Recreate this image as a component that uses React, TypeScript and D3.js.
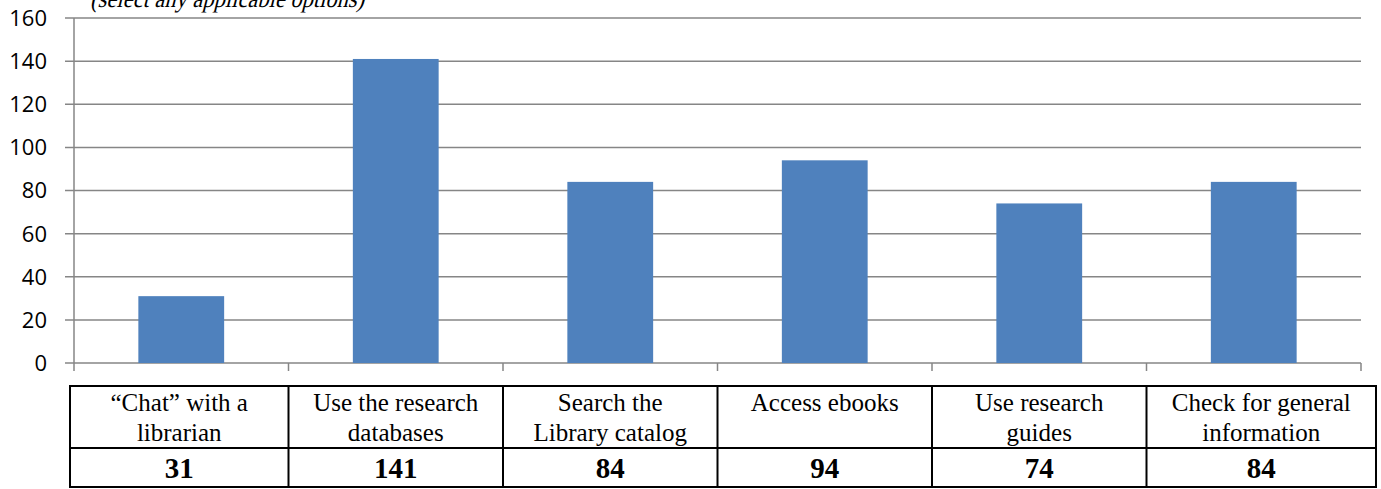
import React from "react";
import * as d3 from "d3";

const categories: string[][] = [
  ["\u201CChat\u201D with a", "librarian"],
  ["Use the research", "databases"],
  ["Search the", "Library catalog"],
  ["Access ebooks"],
  ["Use research", "guides"],
  ["Check for general", "information"],
];
const values: number[] = [31, 141, 84, 94, 74, 84];
const yTicks: number[] = [0, 20, 40, 60, 80, 100, 120, 140, 160];
const title = "(select any applicable options)";

export default function App() {
  const W = 1381, H = 489;
  const x0 = 74, x1 = 1361;
  const y = d3.scaleLinear().domain([0, 160]).range([363, 18]);
  const x = d3.scaleBand().domain(categories.map((_, i) => String(i))).range([x0, x1]).paddingInner(0.6).paddingOuter(0.3);
  const xb = d3.scaleBand().domain(categories.map((_, i) => String(i))).range([x0, x1]);
  const grid = "#868686";
  const tTop = 386, tMid = 448, tBot = 487, tLeft = 70, tRight = 1376;
  const serif = "'Liberation Serif', 'Times New Roman', serif";
  return (
    <svg width={W} height={H} style={{ position: "absolute", left: 0, top: 0 }}>
      <rect width={W} height={H} fill="#fff" />
      <g transform="translate(90,7) skewX(-14)">
        <text x={0} y={0} textLength={274} lengthAdjust="spacingAndGlyphs" style={{ fontFamily: serif, fontSize: "26px" }} fill="#000">{title}</text>
      </g>
      {yTicks.map((t) => (
        <g key={t}>
          <line x1={65} x2={x1} y1={y(t)} y2={y(t)} stroke={grid} strokeWidth={1.5} />
          <text x={47} y={y(t)} dy="0.36em" textAnchor="end" style={{ fontFamily: "'Open Sans', sans-serif", fontSize: "22px" }} fill="#000">{t}</text>
        </g>
      ))}
      <line x1={x0} x2={x0} y1={y(160)} y2={y(0)} stroke={grid} strokeWidth={1.5} />
      {categories.map((_, i) => (
        <line key={"tk" + i} x1={xb(String(i))!} x2={xb(String(i))!} y1={y(0)} y2={y(0) + 8} stroke={grid} strokeWidth={1.5} />
      ))}
      <line x1={x1} x2={x1} y1={y(0)} y2={y(0) + 8} stroke={grid} strokeWidth={1.5} />
      {values.map((v, i) => (
        <rect key={"b" + i} x={x(String(i))!} width={x.bandwidth()} y={y(v)} height={y(0) - y(v)} fill="#4F81BD" />
      ))}
      <rect x={tLeft} y={tTop} width={tRight - tLeft} height={tBot - tTop} fill="none" stroke="#000" strokeWidth={2} />
      <line x1={tLeft} x2={tRight} y1={tMid} y2={tMid} stroke="#000" strokeWidth={2} />
      {categories.slice(1).map((_, i) => (
        <line key={"cd" + i} x1={xb(String(i + 1))!} x2={xb(String(i + 1))!} y1={tTop} y2={tBot} stroke="#000" strokeWidth={2} />
      ))}
      {categories.map((lines, i) => {
        const left = i === 0 ? tLeft : xb(String(i))!;
        const right = i === categories.length - 1 ? tRight : xb(String(i))! + xb.bandwidth();
        const cx = (left + right) / 2;
        return (
          <g key={"c" + i}>
            {lines.map((l, j) => (
              <text key={j} x={cx} y={411 + j * 30} textAnchor="middle" style={{ fontFamily: serif, fontSize: "25px" }} fill="#000">{l}</text>
            ))}
            <text x={cx} y={478} textAnchor="middle" style={{ fontFamily: serif, fontWeight: "bold", fontSize: "29px" }} fill="#000">{values[i]}</text>
          </g>
        );
      })}
    </svg>
  );
}
